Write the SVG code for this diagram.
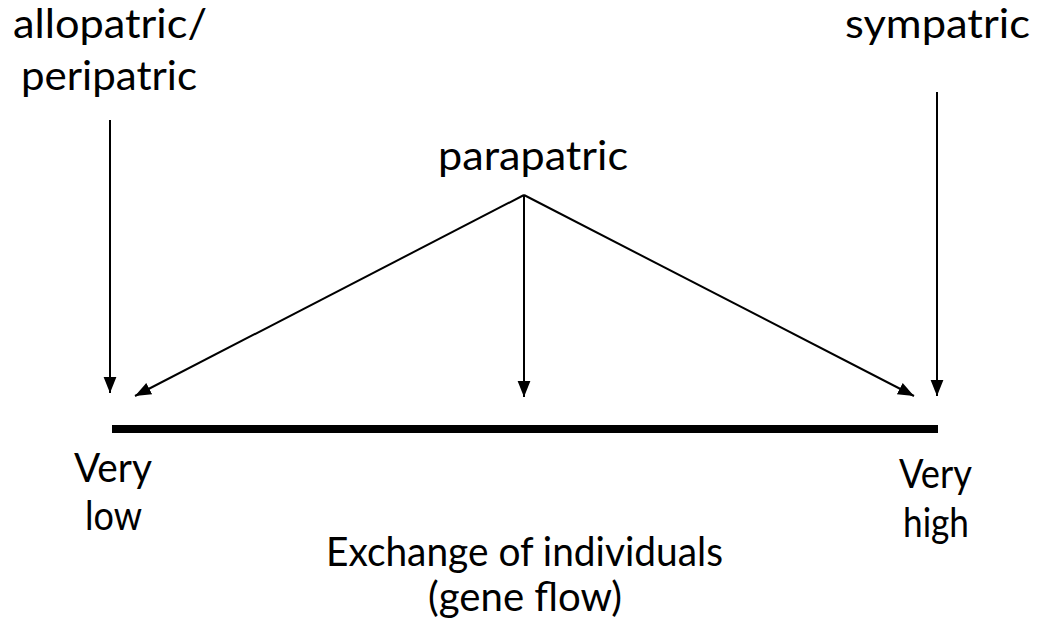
<svg xmlns="http://www.w3.org/2000/svg" width="1037" height="624" viewBox="0 0 1037 624">
<style>
text{font-family:Lato,"Open Sans","Liberation Sans",sans-serif;font-size:41px;fill:#000}
.c{stroke:#000;stroke-width:2;fill:none}
</style>
<defs>
<marker id="ah" viewBox="0 0 10 10" refX="10" refY="5" markerWidth="16" markerHeight="16" markerUnits="userSpaceOnUse" orient="auto">
<path d="M0,1 L10,5 L0,9 Z" fill="#000"/>
</marker>
</defs>
<rect width="1037" height="624" fill="#fff"/>
<g id="connectors">
<line class="c" x1="110" y1="120" x2="110" y2="393" marker-end="url(#ah)"/>
<line class="c" x1="524" y1="195" x2="135" y2="396" marker-end="url(#ah)"/>
<line class="c" x1="524" y1="195" x2="524" y2="397" marker-end="url(#ah)"/>
<line class="c" x1="524" y1="195" x2="914" y2="396" marker-end="url(#ah)"/>
<line class="c" x1="937" y1="92" x2="937" y2="396" marker-end="url(#ah)"/>
</g>
<g id="axis"><line x1="112" y1="429" x2="938" y2="429" stroke="#000" stroke-width="8"/></g>
<g id="allopatric"><text x="13" y="38" textLength="194" lengthAdjust="spacingAndGlyphs">allopatric/</text><text x="21" y="90" textLength="176" lengthAdjust="spacingAndGlyphs">peripatric</text></g>
<g id="sympatric"><text x="845" y="38" textLength="185" lengthAdjust="spacingAndGlyphs">sympatric</text></g>
<g id="parapatric"><text x="438" y="170" textLength="190" lengthAdjust="spacingAndGlyphs">parapatric</text></g>
<g id="low"><text x="74" y="482" textLength="78" lengthAdjust="spacingAndGlyphs">Very</text><text x="85" y="530" textLength="57" lengthAdjust="spacingAndGlyphs">low</text></g>
<g id="high"><text x="899" y="488" textLength="73" lengthAdjust="spacingAndGlyphs">Very</text><text x="903" y="537" textLength="66" lengthAdjust="spacingAndGlyphs">high</text></g>
<g id="xlabel"><text x="326" y="566" textLength="397" lengthAdjust="spacingAndGlyphs">Exchange of individuals</text><text x="428" y="611" textLength="194" lengthAdjust="spacingAndGlyphs">(gene flow)</text></g>
</svg>
